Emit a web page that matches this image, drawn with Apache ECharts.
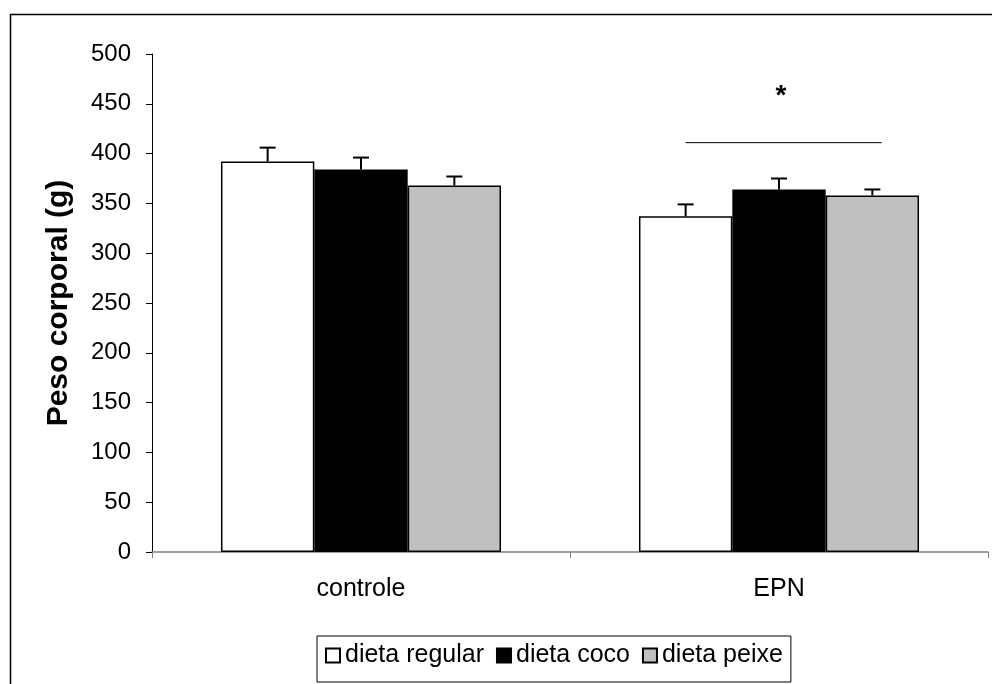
<!DOCTYPE html>
<html>
<head>
<meta charset="utf-8">
<script src="https://cdn.jsdelivr.net/npm/echarts@6/dist/echarts.min.js"></script>
<style>
html,body{margin:0;padding:0;background:#fff;}
#chart{width:992px;height:684px;}
</style>
</head>
<body>
<div id="chart"></div>
<script>
const categories = ['controle', 'EPN'];
const seriesNames = ['dieta regular', 'dieta coco', 'dieta peixe'];
const regularValues = [392, 337];
const regularErrors = [14, 12];
const cocoValues = [384, 364];
const cocoErrors = [12, 11];
const peixeValues = [368, 358];
const peixeErrors = [9, 6];
const yTickMin = 0, yTickMax = 500, yTickStep = 50;
const sigCategory = 1;      // EPN
const sigLineValue = 411;
const sigStarValue = 458;
const sigLabel = '*';

const FONT = '"Liberation Sans", Arial, sans-serif';
const colors = ['#ffffff', '#000000', '#c0c0c0'];
const valuesList = [regularValues, cocoValues, peixeValues];
const errorsList = [regularErrors, cocoErrors, peixeErrors];
const CAT_GAP = 0.33;

const chart = echarts.init(document.getElementById('chart'));

const barSeries = seriesNames.map((name, i) => ({
  name: name,
  type: 'bar',
  data: valuesList[i],
  barGap: '0%',
  barCategoryGap: '33%',
  itemStyle: { color: colors[i], borderColor: '#000', borderWidth: 1.5 },
  emphasis: { disabled: true },
  z: 2
}));

const errData = [];
seriesNames.forEach((n, i) => {
  categories.forEach((c, j) => {
    errData.push([j, valuesList[i][j], errorsList[i][j], i]);
  });
});

const errSeries = {
  type: 'custom',
  name: 'err',
  data: errData,
  z: 3,
  silent: true,
  renderItem: function (params, api) {
    const cat = api.value(0), v = api.value(1), e = api.value(2), idx = api.value(3);
    const base = api.coord([cat, v]);
    const top = api.coord([cat, v + e]);
    const band = api.size([1, 0])[0];
    const barW = band * (1 - CAT_GAP) / 3;
    const x = base[0] + (idx - 1) * barW;
    const cap = 8;
    const style = { stroke: '#000', lineWidth: 2 };
    return {
      type: 'group',
      children: [
        { type: 'line', shape: { x1: x, y1: base[1], x2: x, y2: top[1] }, style: style },
        { type: 'line', shape: { x1: x - cap, y1: top[1], x2: x + cap, y2: top[1] }, style: style }
      ]
    };
  }
};

const sigSeries = {
  type: 'custom',
  name: 'sig',
  data: [[sigCategory, sigLineValue, sigStarValue]],
  z: 3,
  silent: true,
  renderItem: function (params, api) {
    const cat = api.value(0);
    const p = api.coord([cat, api.value(1)]);
    const s = api.coord([cat, api.value(2)]);
    const band = api.size([1, 0])[0];
    const barW = band * (1 - CAT_GAP) / 3;
    return {
      type: 'group',
      children: [
        { type: 'line', shape: { x1: p[0] - barW, y1: p[1], x2: p[0] + barW * 1.1, y2: p[1] },
          style: { stroke: '#000', lineWidth: 1 } },
        { type: 'text', style: { x: s[0] + 2, y: s[1], text: sigLabel, fill: '#000',
          font: 'bold 28px ' + FONT, align: 'center', verticalAlign: 'middle' } }
      ]
    };
  }
};

chart.setOption({
  animation: false,
  backgroundColor: '#fff',
  graphic: [{
    type: 'rect', left: 8, top: 12, shape: { width: 1100, height: 800 },
    style: { fill: 'none', stroke: '#000', lineWidth: 1.5 }, silent: true, z: -1
  }],
  grid: { left: 152, right: 4, top: 54, bottom: 132, containLabel: false },
  legend: {
    data: seriesNames,
    left: 317,
    top: 636,
    orient: 'horizontal',
    icon: 'rect',
    itemWidth: 14,
    itemHeight: 14,
    itemGap: 12,
    padding: [7, 8, 14, 8],
    borderColor: '#000',
    borderWidth: 1,
    textStyle: { fontFamily: FONT, fontSize: 25, color: '#000' },
    selectedMode: false
  },
  xAxis: {
    type: 'category',
    data: categories,
    axisLine: { lineStyle: { color: '#808080', width: 1.5 } },
    axisTick: { show: true, length: 6, lineStyle: { color: '#808080' } },
    axisLabel: { fontFamily: FONT, fontSize: 25, color: '#000', margin: 25 },
    splitLine: { show: false }
  },
  yAxis: {
    type: 'value',
    min: yTickMin,
    max: yTickMax,
    interval: yTickStep,
    name: 'Peso corporal (g)',
    nameLocation: 'middle',
    nameGap: 78,
    nameTextStyle: { fontFamily: FONT, fontSize: 30, fontWeight: 'bold', color: '#000' },
    axisLine: { show: true, lineStyle: { color: '#000', width: 1 } },
    axisTick: { show: true, length: 6, lineStyle: { color: '#000' } },
    axisLabel: { fontFamily: FONT, fontSize: 24, color: '#000', margin: 21 },
    splitLine: { show: false }
  },
  series: barSeries.concat([errSeries, sigSeries])
});
</script>
</body>
</html>
